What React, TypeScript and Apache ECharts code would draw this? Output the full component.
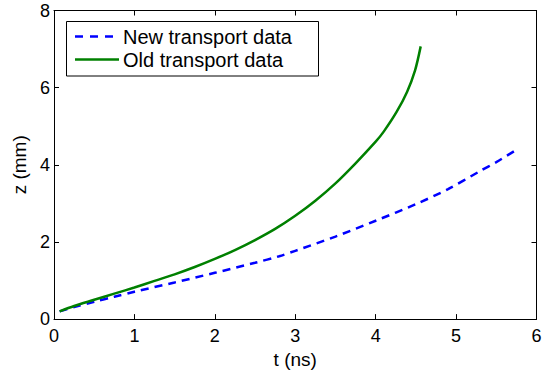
import React, { useEffect, useRef } from "react";
import * as echarts from "echarts";

// t (ns) and z (mm) for each data set
const newT = [0.07, 0.25, 0.5, 0.75, 1.0, 1.5, 2.0, 2.5, 2.8, 3.0, 3.5, 4.0, 4.5, 4.9, 5.3, 5.5, 5.72];
const newZ = [0.2, 0.31, 0.45, 0.58, 0.71, 0.95, 1.2, 1.46, 1.63, 1.77, 2.14, 2.55, 2.98, 3.37, 3.84, 4.07, 4.35];

const oldT = [0.07, 0.25, 0.5, 0.75, 1.0, 1.25, 1.5, 1.75, 2.0, 2.25, 2.5, 2.75, 3.0, 3.25, 3.5, 3.75, 4.0, 4.1, 4.26, 4.39, 4.49, 4.56];
const oldZ = [0.2, 0.34, 0.5, 0.66, 0.82, 0.99, 1.16, 1.35, 1.56, 1.79, 2.05, 2.34, 2.68, 3.07, 3.52, 4.04, 4.6, 4.86, 5.37, 5.89, 6.45, 7.07];

const seriesNames = ["New transport data", "Old transport data"];
const seriesColors = ["#0000ff", "#008000"];
const xName = "t (ns)";
const yName = "z (mm)";

const FONT = "'Liberation Sans', Arial, Helvetica, sans-serif";

export default function App() {
  const ref = useRef<HTMLDivElement>(null);
  useEffect(() => {
    if (!ref.current) return;
    const chart = echarts.init(ref.current, null, { renderer: "svg" });
    const axisLine = { show: true, onZero: false, lineStyle: { color: "#000", width: 1 } };
    const tickIn = { show: true, inside: true, length: 5, lineStyle: { color: "#000", width: 1 } };
    const dashes = [8, 6];
    chart.setOption({
      animation: false,
      backgroundColor: "#fff",
      textStyle: { fontFamily: FONT },
      grid: { left: 54, right: 10.5, top: 10.5, bottom: 50.5, containLabel: false },
      graphic: [
        {
          type: "group",
          z: 100,
          children: [
            {
              type: "rect",
              shape: { x: 66.5, y: 21.5, width: 252, height: 54.5 },
              style: { fill: "#fff", stroke: "#000", lineWidth: 1 },
            },
            {
              type: "line",
              shape: { x1: 75, y1: 36.5, x2: 113, y2: 36.5 },
              style: { stroke: seriesColors[0], lineWidth: 2.5, lineDash: [8, 7] },
            },
            {
              type: "text",
              x: 123,
              y: 36.5,
              style: {
                text: seriesNames[0],
                fontFamily: FONT,
                fontSize: 20,
                fill: "#000",
                verticalAlign: "middle",
                align: "left",
              },
            },
            {
              type: "line",
              shape: { x1: 75, y1: 59.5, x2: 119, y2: 59.5 },
              style: { stroke: seriesColors[1], lineWidth: 2.5 },
            },
            {
              type: "text",
              x: 123,
              y: 59.5,
              style: {
                text: seriesNames[1],
                fontFamily: FONT,
                fontSize: 20,
                fill: "#000",
                verticalAlign: "middle",
                align: "left",
              },
            },
          ],
        },
      ],
      xAxis: [
        {
          type: "value",
          min: 0,
          max: 6,
          interval: 1,
          name: xName,
          nameLocation: "middle",
          nameGap: 25,
          nameTextStyle: { fontFamily: FONT, fontSize: 19, color: "#000" },
          axisLine,
          axisTick: tickIn,
          axisLabel: { fontFamily: FONT, fontSize: 18, color: "#000", margin: 8 },
          splitLine: { show: false },
        },
        {
          type: "value",
          position: "top",
          min: 0,
          max: 6,
          interval: 1,
          axisLine,
          axisTick: tickIn,
          axisLabel: { show: false },
          splitLine: { show: false },
        },
      ],
      yAxis: [
        {
          type: "value",
          min: 0,
          max: 8,
          interval: 2,
          name: yName,
          nameLocation: "middle",
          nameGap: 22,
          nameTextStyle: { fontFamily: FONT, fontSize: 19, color: "#000" },
          axisLine,
          axisTick: tickIn,
          axisLabel: { fontFamily: FONT, fontSize: 18, color: "#000", margin: 4 },
          splitLine: { show: false },
        },
        {
          type: "value",
          position: "right",
          min: 0,
          max: 8,
          interval: 2,
          axisLine,
          axisTick: tickIn,
          axisLabel: { show: false },
          splitLine: { show: false },
        },
      ],
      series: [
        {
          name: seriesNames[0],
          type: "line",
          data: newT.map((t, i) => [t, newZ[i]]),
          showSymbol: false,
          symbol: "none",
          smooth: 0.3,
          lineStyle: { color: seriesColors[0], width: 2.5, type: dashes },
          itemStyle: { color: seriesColors[0] },
        },
        {
          name: seriesNames[1],
          type: "line",
          data: oldT.map((t, i) => [t, oldZ[i]]),
          showSymbol: false,
          symbol: "none",
          smooth: 0.3,
          lineStyle: { color: seriesColors[1], width: 2.5, type: "solid" },
          itemStyle: { color: seriesColors[1] },
        },
      ],
    });
    return () => chart.dispose();
  }, []);
  return (
    <div
      ref={ref}
      style={{ position: "fixed", left: 0, top: 0, width: 547, height: 374, background: "#fff" }}
    />
  );
}
